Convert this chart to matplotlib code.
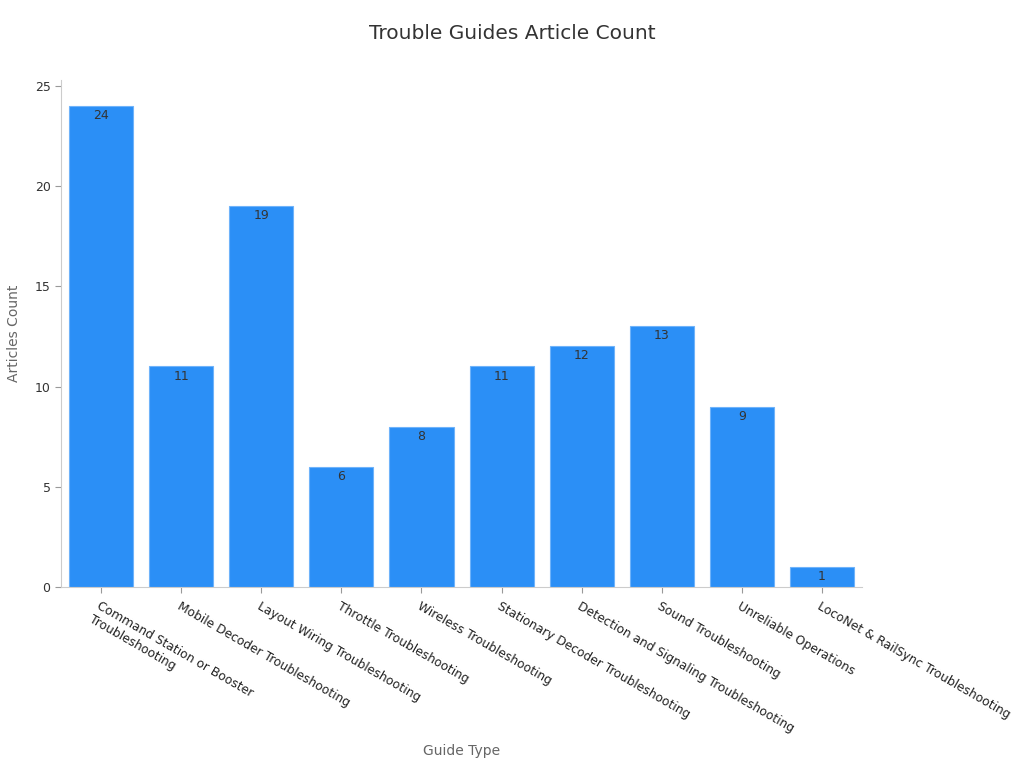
import matplotlib.pyplot as plt
import numpy as np

categories = [
    "Command Station or Booster\nTroubleshooting",
    "Mobile Decoder Troubleshooting",
    "Layout Wiring Troubleshooting",
    "Throttle Troubleshooting",
    "Wireless Troubleshooting",
    "Stationary Decoder Troubleshooting",
    "Detection and Signaling Troubleshooting",
    "Sound Troubleshooting",
    "Unreliable Operations",
    "LocoNet & RailSync Troubleshooting",
]
counts = [24, 11, 19, 6, 8, 11, 12, 13, 9, 1]
yticks = [0, 5, 10, 15, 20, 25]

fig = plt.figure(figsize=(10.24, 7.68), dpi=100)
ax = fig.add_axes([0.0596, 0.2357, 0.7822, 0.6603])

x = np.arange(len(categories))
bars = ax.bar(x, counts, width=0.8, color="#2B8FF6", edgecolor="#6FB3FA", linewidth=0.8)

for xi, v in zip(x, counts):
    ax.text(xi, v - 0.15, str(v), ha="center", va="top", fontsize=9, color="#333333")

ax.set_xlim(-0.5, len(categories) - 0.5)
ax.set_ylim(0, 25.3)
ax.set_yticks(yticks)
ax.tick_params(axis="y", labelsize=9, colors="#333333", length=4, color="#999999")
ax.set_xticks(x)
ax.set_xticklabels(categories, rotation=-30, ha="left", rotation_mode="anchor",
                   fontsize=8.8, color="#222222")
ax.tick_params(axis="x", length=4, color="#999999", pad=5)

for s in ["top", "right"]:
    ax.spines[s].set_visible(False)
for s in ["left", "bottom"]:
    ax.spines[s].set_color("#CCCCCC")

ax.set_ylabel("Articles Count", fontsize=10, color="#666666", labelpad=10)
fig.text(0.451, 0.017, "Guide Type", fontsize=10, color="#666666", ha="center")
fig.text(0.5, 0.957, "Trouble Guides Article Count", fontsize=14.5, color="#333333",
         ha="center", va="center")

fig.savefig("out.png", dpi=100, facecolor="white")
